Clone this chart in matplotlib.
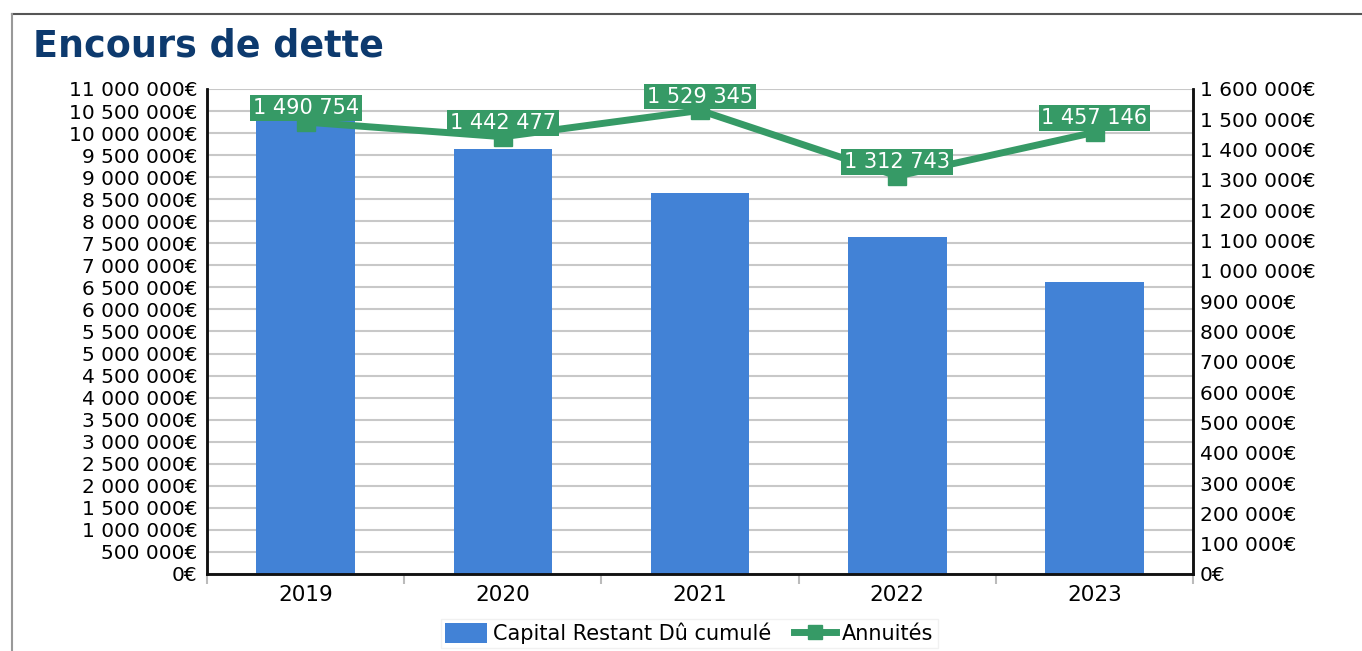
import matplotlib.pyplot as plt
from matplotlib.lines import Line2D
from matplotlib.patches import Patch
from matplotlib.ticker import FuncFormatter, MultipleLocator
import numpy as np

years = ['2019', '2020', '2021', '2022', '2023']
capital_restant = [10640000, 9640000, 8640000, 7640000, 6625000]
annuites = [1490754, 1442477, 1529345, 1312743, 1457146]

BLUE = '#4282d6'
GREEN = '#369a66'
NAVY = '#0d3a6e'


def euro(v, _pos=None):
    s = f'{int(round(v)):,}'.replace(',', ' ')
    return s + '€'


def spaced(v):
    return f'{v:,}'.replace(',', ' ')


fig = plt.figure(figsize=(13.62, 6.51), dpi=100)
ax = fig.add_axes([0.152, 0.1183, 0.724, 0.745])
ax2 = ax.twinx()

x = np.arange(len(years))
ax.bar(x, capital_restant, width=0.5, color=BLUE, zorder=2)
ax.set_xlim(-0.5, len(years) - 0.5)
ax.set_ylim(0, 11000000)
ax.yaxis.set_major_locator(MultipleLocator(500000))
ax.yaxis.set_major_formatter(FuncFormatter(euro))
ax.grid(axis='y', color='#c8c8c8', linewidth=1.5, zorder=0)
ax.set_axisbelow(True)
ax.set_xticks(x)
ax.set_xticklabels(years, fontsize=15.5)
ax.set_xticks(np.arange(-0.5, len(years)), minor=True)
ax.tick_params(axis='x', which='major', length=0, pad=8)
ax.tick_params(axis='x', which='minor', length=7, color='#bbbbbb', width=1.5)
ax.tick_params(axis='y', length=0, labelsize=14.5, pad=7)

ax2.plot(x, annuites, color=GREEN, linewidth=5, marker='s', markersize=13, zorder=3)
ax2.set_ylim(0, 1600000)
ax2.yaxis.set_major_locator(MultipleLocator(100000))
ax2.yaxis.set_major_formatter(FuncFormatter(euro))
ax2.tick_params(axis='y', length=0, labelsize=14.5, pad=5)

for xi, v in zip(x, annuites):
    ax2.annotate(spaced(v), (xi, v), xytext=(0, 10), textcoords='offset points',
                 ha='center', va='center', color='white', fontsize=15,
                 bbox=dict(boxstyle='square,pad=0.14', facecolor=GREEN, edgecolor='none'),
                 zorder=4)

for a in (ax, ax2):
    a.spines['top'].set_visible(False)
    for side in ('left', 'right', 'bottom'):
        a.spines[side].set_color('#111111')
        a.spines[side].set_linewidth(1.8)

fig.text(0.024, 0.929, 'Encours de dette', fontsize=26.3, fontweight='bold',
         color=NAVY, va='center', ha='left')

# outer frame around the chart
fig.add_artist(Line2D([0.009, 1.0], [0.978, 0.978], color='#555555', linewidth=1.5))
fig.add_artist(Line2D([0.009, 0.009], [0.0, 0.978], color='#999999', linewidth=1.5))

handles = [Patch(facecolor=BLUE, edgecolor='none'),
           Line2D([], [], color=GREEN, linewidth=5, marker='s', markersize=10)]
fig.legend(handles, ['Capital Restant Dû cumulé', 'Annuités'], loc='center',
           bbox_to_anchor=(0.506, 0.027), ncol=2, frameon=True, fancybox=False,
           edgecolor='#eeeeee', fontsize=15, handlelength=2.0, handleheight=1.1,
           columnspacing=1.1, handletextpad=0.3, borderpad=0.2)

fig.savefig('out.png', dpi=100)
